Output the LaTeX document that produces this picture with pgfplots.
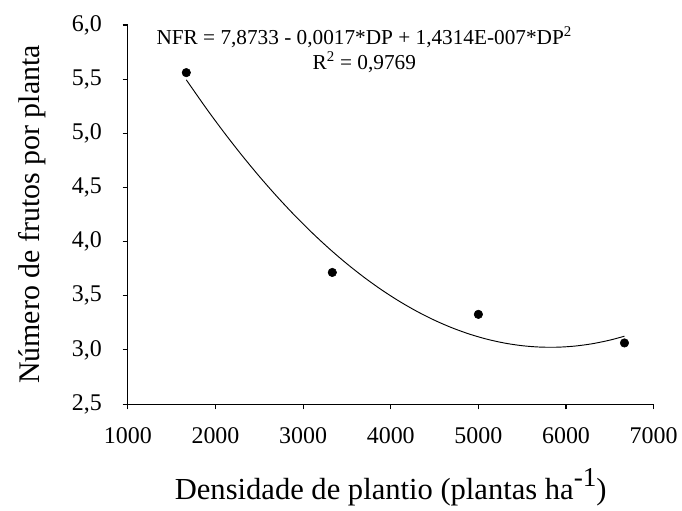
\documentclass[border=0pt]{standalone}
\usepackage{fontspec}
\setmainfont{Liberation Serif}
\usepackage{pgfplots}
\pgfplotsset{compat=1.18}

\begin{document}
\begin{tikzpicture}
\begin{axis}[
  at={(0,0)}, anchor=south west,
  scale only axis,
  width=395.6pt, height=285.2pt,
  xmin=1000, xmax=7000,
  ymin=2.5, ymax=6.0,
  axis lines=left,
  axis line style={-, line width=0.8pt},
  xtick={1000,2000,...,7000},
  ytick={2.5,3.0,...,6.0},
  tick align=outside,
  major tick length=4pt,
  tick style={black, line width=0.8pt},
  /pgf/number format/assume math mode=true,
  x tick label style={font=\fontsize{18}{18}\selectfont, /pgf/number format/1000 sep={}, yshift=-10pt},
  y tick label style={font=\fontsize{18}{18}\selectfont, xshift=-12pt, /pgf/number format/.cd, use comma, fixed, fixed zerofill, precision=1},
  xlabel={Densidade de plantio (plantas ha\raisebox{0.42em}{\fontsize{20.5}{20.5}\selectfont -1})},
  ylabel={Número de frutos por planta},
  xlabel style={font=\fontsize{23}{23}\selectfont, at={(axis description cs:0.5,0)}, anchor=base, yshift=-72pt},
  ylabel style={font=\fontsize{22.5}{22.5}\selectfont, at={(axis description cs:-0.182,0.5)}, anchor=center},
  clip=false,
]
\addplot[black, line width=0.7pt, smooth] coordinates {
  (1667,5.4934) (1900,5.2241) (2100,5.0054) (2300,4.7980) (2500,4.6021)
  (2700,4.4178) (2900,4.2448) (3100,4.0834) (3300,3.9333) (3500,3.7947)
  (3700,3.6676) (3900,3.5519) (4100,3.4477) (4300,3.3549) (4500,3.2735)
  (4700,3.2037) (4900,3.1452) (5100,3.0983) (5300,3.0627) (5500,3.0386)
  (5700,3.0260) (5900,3.0248) (6100,3.0351) (6300,3.0568) (6500,3.0900)
  (6667,3.1265)
};
\addplot[black, only marks, mark=*, mark size=3.2pt] coordinates {
  (1667,5.56) (3333,3.715) (5000,3.328) (6667,3.064)
};
\node[anchor=base, font=\fontsize{16}{16}\selectfont] at (axis cs:3698,5.816)
  {NFR = 7,8733 - 0,0017*DP + 1,4314E-007*DP\textsuperscript{2}};
\node[anchor=base, font=\fontsize{16}{16}\selectfont] at (axis cs:3698,5.586)
  {R\textsuperscript{2} = 0,9769};
\end{axis}
\path[use as bounding box] (-96.2pt,-75.5pt) rectangle (415.3pt,304pt);
\end{tikzpicture}
\end{document}
